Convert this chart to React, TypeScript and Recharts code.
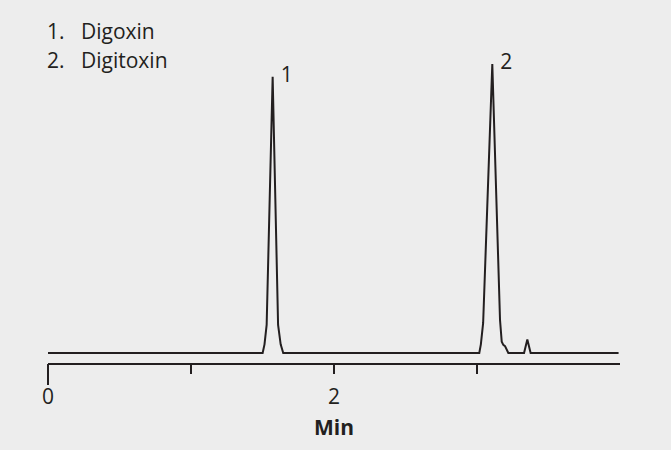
import React from 'react'
import { LineChart, Line, XAxis, YAxis } from 'recharts'

// retention time (min) and detector signal
const times = [0, 1.501, 1.514, 1.529, 1.571, 1.609, 1.627, 1.645, 3.016, 3.027, 3.043, 3.107, 3.161, 3.173, 3.184, 3.196, 3.219, 3.329, 3.352, 3.375, 3.99]
const signal = [0, 0, 3.0, 9.7, 95.6, 9.7, 3.0, 0, 0, 3.0, 10.4, 100, 11.4, 3.9, 2.8, 2.4, 0, 0, 4.7, 0, 0]

const peakTimes = [1.571, 3.107]
const peakNames = ['1', '2']
const compounds = ['Digoxin', 'Digitoxin']

const axisTicks = [0, 1, 2, 3]
const tickLabels: Record<number, string> = { 0: '0', 2: '2' }

const ink = '#231f20'
const font = '"Open Sans", sans-serif'

type Row = { time: number, signal: number, peak?: string }

const data: Row[] = times.map((t, i) => {
  const k = peakTimes.indexOf(t)
  return { time: t, signal: signal[i], peak: k >= 0 ? peakNames[k] : undefined }
})

const TimeTick = ({ x, y, payload }: any) => {
  const v = payload.value
  const len = v === 0 ? 21 : 10
  const txt = tickLabels[v]
  return (
    <g>
      <line x1={x} x2={x} y1={y} y2={y + len} stroke={ink} strokeWidth={2} />
      {txt && (
        <text x={x} y={y + 40} textAnchor="middle" fill={ink} fontSize={21} fontFamily={font}>{txt}</text>
      )}
    </g>
  )
}

const PeakLabel = (props: any) => {
  const { cx, cy, payload, index } = props
  if (!payload.peak) return <g key={index} />
  return (
    <text key={index} x={cx + 8} y={cy + 5} fill={ink} fontSize={21} fontFamily={font}>{payload.peak}</text>
  )
}

const AxisTitle = ({ viewBox }: any) => (
  <text x={viewBox.x + viewBox.width / 2} y={viewBox.y + 71} textAnchor="middle" fill={ink} fontSize={21} fontWeight="bold" fontFamily={font}>Min</text>
)

const App = () => {
  return (
    <div style={{ position: 'fixed', left: 0, top: 0, width: 671, height: 450, background: '#ededed', fontFamily: font }}>
      <div style={{ position: 'absolute', left: 47, top: 17, color: ink, fontSize: 21, lineHeight: '28.5px' }}>
        {compounds.map((c, i) => (
          <div key={c}>
            <span style={{ display: 'inline-block', width: 34 }}>{i + 1}.</span>{c}
          </div>
        ))}
      </div>
      <LineChart width={671} height={450} data={data} margin={{ top: 64, right: 51, left: 48, bottom: 0 }}>
        <XAxis
          dataKey="time"
          type="number"
          domain={[0, 4]}
          ticks={axisTicks}
          tickSize={0}
          tickMargin={0}
          tickLine={false}
          axisLine={{ stroke: ink, strokeWidth: 2 }}
          tick={<TimeTick />}
          height={86}
          label={<AxisTitle />}
        />
        <YAxis hide={true} domain={[-3.8, 100]} />
        <Line
          type="linear"
          dataKey="signal"
          stroke={ink}
          strokeWidth={2}
          dot={PeakLabel}
          activeDot={false}
          isAnimationActive={false}
        />
      </LineChart>
    </div>
  )
}

export default App
